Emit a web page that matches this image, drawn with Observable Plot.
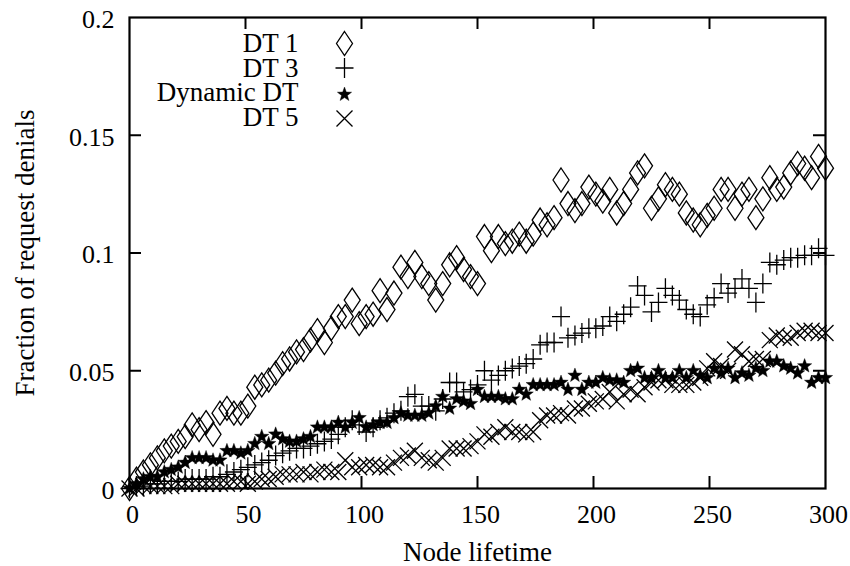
<!DOCTYPE html>
<html>
<head>
<meta charset="utf-8">
<script src="https://cdn.jsdelivr.net/npm/d3@7"></script>
<script src="https://cdn.jsdelivr.net/npm/@observablehq/plot@0.6"></script>
<style>
  html, body { margin: 0; padding: 0; background: #fff; }
</style>
</head>
<body>
<div id="chart"></div>
<script>
// ---- data ----
const seriesNames = ["DT 1", "DT 3", "Dynamic DT", "DT 5"];
const xTicks = [0, 50, 100, 150, 200, 250, 300];
const xTickLabels = ["0", "50", "100", "150", "200", "250", "300"];
const yTicks = [0, 0.05, 0.1, 0.15, 0.2];
const yTickLabels = ["0", "0.05", "0.1", "0.15", "0.2"];
const xTitle = "Node lifetime";
const yTitle = "Fraction of request denials";

const lifetime = [
  0, 3, 6, 9, 12, 15, 18, 21, 24, 27,
  30, 33, 36, 39, 42, 45, 48, 51, 54, 57,
  60, 63, 66, 69, 72, 75, 78, 81, 84, 87,
  90, 93, 96, 99, 102, 105, 108, 111, 114, 117,
  120, 123, 126, 129, 132, 135, 138, 141, 144, 147,
  150, 153, 156, 159, 162, 165, 168, 171, 174, 177,
  180, 183, 186, 189, 192, 195, 198, 201, 204, 207,
  210, 213, 216, 219, 222, 225, 228, 231, 234, 237,
  240, 243, 246, 249, 252, 255, 258, 261, 264, 267,
  270, 273, 276, 279, 282, 285, 288, 291, 294, 297,
  300
];

const dt1 = [
  0.000,0.004,0.007,0.010,0.013,0.016,0.018,0.020,0.022,0.027,
  0.025,0.028,0.023,0.032,0.034,0.032,0.032,0.035,0.043,0.044,
  0.046,0.049,0.053,0.055,0.058,0.059,0.063,0.067,0.062,0.068,
  0.073,0.073,0.080,0.070,0.073,0.074,0.084,0.076,0.083,0.094,
  0.090,0.096,0.090,0.087,0.080,0.087,0.095,0.098,0.093,0.090,
  0.087,0.107,0.101,0.107,0.104,0.105,0.108,0.105,0.108,0.114,
  0.112,0.115,0.131,0.121,0.118,0.121,0.128,0.125,0.122,0.127,
  0.117,0.121,0.127,0.134,0.137,0.119,0.123,0.129,0.127,0.125,
  0.117,0.114,0.112,0.116,0.119,0.127,0.127,0.119,0.125,0.127,
  0.115,0.123,0.132,0.127,0.128,0.134,0.138,0.136,0.132,0.141,
  0.136
];

const dt3 = [
  0.000,0.001,0.001,0.002,0.002,0.003,0.003,0.003,0.004,0.004,
  0.004,0.004,0.005,0.005,0.006,0.007,0.008,0.009,0.010,0.011,
  0.012,0.014,0.015,0.016,0.017,0.017,0.018,0.019,0.020,0.021,
  0.023,0.026,0.029,0.027,0.024,0.026,0.029,0.030,0.032,0.033,
  0.039,0.040,0.035,0.035,0.033,0.038,0.045,0.045,0.041,0.042,
  0.044,0.050,0.046,0.048,0.050,0.051,0.052,0.053,0.055,0.061,
  0.062,0.062,0.073,0.064,0.065,0.066,0.068,0.068,0.069,0.073,
  0.071,0.074,0.077,0.086,0.082,0.075,0.079,0.085,0.082,0.080,
  0.076,0.074,0.073,0.078,0.081,0.087,0.083,0.085,0.089,0.085,
  0.079,0.087,0.096,0.095,0.097,0.098,0.098,0.099,0.099,0.102,
  0.099
];

const dynDT = [
  0.000,0.002,0.004,0.005,0.005,0.007,0.008,0.009,0.011,0.013,
  0.013,0.013,0.012,0.012,0.016,0.016,0.015,0.016,0.019,0.022,
  0.019,0.023,0.021,0.020,0.020,0.021,0.022,0.026,0.026,0.026,
  0.028,0.026,0.028,0.030,0.026,0.027,0.028,0.028,0.030,0.032,
  0.031,0.031,0.031,0.032,0.035,0.039,0.034,0.038,0.037,0.036,
  0.042,0.039,0.039,0.039,0.038,0.038,0.042,0.040,0.044,0.044,
  0.044,0.044,0.045,0.042,0.048,0.042,0.045,0.045,0.047,0.046,
  0.046,0.045,0.050,0.051,0.047,0.047,0.050,0.047,0.047,0.050,
  0.047,0.050,0.048,0.047,0.051,0.049,0.051,0.047,0.049,0.048,
  0.051,0.050,0.054,0.054,0.052,0.051,0.049,0.052,0.045,0.047,
  0.047
];

const dt5 = [
  0.000,0.000,0.001,0.001,0.001,0.001,0.001,0.002,0.002,0.002,
  0.002,0.002,0.002,0.002,0.002,0.003,0.003,0.002,0.003,0.004,
  0.004,0.005,0.006,0.006,0.006,0.007,0.006,0.007,0.008,0.007,
  0.007,0.012,0.009,0.009,0.010,0.010,0.009,0.009,0.011,0.013,
  0.014,0.016,0.013,0.012,0.011,0.013,0.017,0.017,0.017,0.018,
  0.020,0.023,0.022,0.024,0.026,0.024,0.024,0.023,0.024,0.029,
  0.031,0.031,0.032,0.031,0.034,0.034,0.036,0.037,0.038,0.041,
  0.037,0.040,0.042,0.040,0.043,0.045,0.046,0.046,0.044,0.044,
  0.044,0.045,0.047,0.051,0.054,0.052,0.050,0.059,0.057,0.054,
  0.055,0.055,0.063,0.065,0.064,0.064,0.066,0.067,0.067,0.066,
  0.066
];

// ---- symbols (gnuplot-like point types) ----
const symDiamond = { draw(c) { c.moveTo(0, -12); c.lineTo(8, 0); c.lineTo(0, 12); c.lineTo(-8, 0); c.closePath(); } };
const symPlus = { draw(c) { c.moveTo(-9, 0); c.lineTo(9, 0); c.moveTo(0, -10); c.lineTo(0, 10); } };
const symTimes = { draw(c) { c.moveTo(-8, -8); c.lineTo(8, 8); c.moveTo(-8, 8); c.lineTo(8, -8); } };
const symStar = { draw(c) {
  const R = 7.5, r = 3.1;
  for (let k = 0; k < 10; ++k) {
    const a = -Math.PI / 2 + k * Math.PI / 5, rr = k % 2 ? r : R;
    if (k === 0) c.moveTo(rr * Math.cos(a), rr * Math.sin(a)); else c.lineTo(rr * Math.cos(a), rr * Math.sin(a));
  }
  c.closePath();
} };

const seriesValues = [dt1, dt3, dynDT, dt5];
const seriesStyle = [
  { symbol: symDiamond, fill: "none", stroke: "black", strokeWidth: 1.3 },
  { symbol: symPlus, fill: "none", stroke: "black", strokeWidth: 1.3 },
  { symbol: symStar, fill: "black", stroke: "black", strokeWidth: 0.4 },
  { symbol: symTimes, fill: "none", stroke: "black", strokeWidth: 1.3 }
];

const table = seriesNames.map((name, s) =>
  lifetime.map((x, i) => ({ series: name, x, y: seriesValues[s][i] }))
);

// ---- layout ----
const W = 850, H = 566;
const mL = 129, mR = 25, mT = 17, mB = 78;
const plotW = W - mL - mR, plotH = H - mT - mB;
const tickLen = 12;
const legendTextDx = 169, legendSymDx = 215;
const legendDy = [26, 50.5, 75, 100];
const legendSymDy = [26, 50.5, 77, 101];

const tickLabelX = new Map(xTicks.map((t, i) => [t, xTickLabels[i]]));
const tickLabelY = new Map(yTicks.map((t, i) => [t, yTickLabels[i]]));
const innerX = xTicks.slice(1, -1);
const innerY = yTicks.slice(1, -1);

const marks = [
  // inward ticks on all four sides
  Plot.ruleX(innerX, { x: d => d, insetTop: plotH - tickLen, strokeWidth: 2 }),
  Plot.ruleX(innerX, { x: d => d, insetBottom: plotH - tickLen, strokeWidth: 2 }),
  Plot.ruleY(innerY, { y: d => d, insetRight: plotW - tickLen, strokeWidth: 2 }),
  Plot.ruleY(innerY, { y: d => d, insetLeft: plotW - tickLen, strokeWidth: 2 }),
  Plot.axisX({ ticks: xTicks, tickFormat: d => tickLabelX.get(d), tickSize: 0, tickPadding: 16, dx: 3, label: null, fontSize: 26 }),
  Plot.axisY({ ticks: yTicks, tickFormat: d => tickLabelY.get(d), tickSize: 0, tickPadding: 15, dy: 2, label: null, fontSize: 26 }),
  Plot.frame({ strokeWidth: 2.2 }),
  ...table.map((rows, s) => Plot.dot(rows, { x: "x", y: "y", r: 8, ...seriesStyle[s] })),
  Plot.text([xTitle], { text: d => d, frameAnchor: "bottom", dy: 64, fontSize: 27, lineAnchor: "middle" }),
  Plot.text([yTitle], { text: d => d, frameAnchor: "left", dx: -104, rotate: -90, fontSize: 27, textAnchor: "middle", lineAnchor: "middle" }),
  ...seriesNames.map((name, s) => Plot.text([name], { text: d => d, frameAnchor: "top-left", dx: legendTextDx, dy: legendDy[s], textAnchor: "end", lineAnchor: "middle", fontSize: 27 })),
  ...seriesNames.map((name, s) => Plot.dot([name], { x: null, y: null, frameAnchor: "top-left", dx: legendSymDx, dy: legendSymDy[s], r: 8, ...seriesStyle[s] }))
];

const chart = Plot.plot({
  width: W, height: H,
  marginLeft: mL, marginRight: mR, marginTop: mT, marginBottom: mB,
  style: { fontFamily: "'Liberation Serif', serif", fontSize: "26px", background: "white", color: "black" },
  x: { domain: [0, 300] },
  y: { domain: [0, 0.2] },
  marks
});
document.getElementById("chart").appendChild(chart);
</script>
</body>
</html>
